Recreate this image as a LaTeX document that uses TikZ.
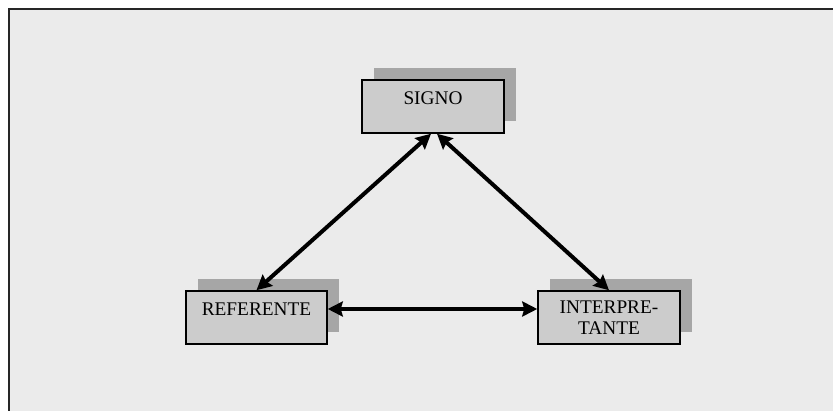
\documentclass[tikz,border=0pt]{standalone}
\usepackage{fontspec}
\setmainfont{Liberation Serif}
\usetikzlibrary{arrows.meta,shadows}
\definecolor{panel}{HTML}{EBEBEB}
\definecolor{boxfill}{HTML}{CCCCCC}
\definecolor{boxshade}{HTML}{A6A6A6}
\definecolor{frameline}{HTML}{262626}
\tikzset{
  conceptbox/.style={draw=black, line width=1.5pt, fill=boxfill,
    minimum width=142pt, minimum height=53pt, inner sep=0pt,
    align=center, font=\fontsize{19.3}{21}\selectfont,
    copy shadow={shadow xshift=12pt, shadow yshift=12pt, draw=none, fill=boxshade}},
  oneline/.style={text height=13pt, text depth=16pt},
  biarrow/.style={line width=4pt, {Stealth[length=15pt,width=15pt,inset=2pt]}-{Stealth[length=15pt,width=15pt,inset=2pt]}}
}
\begin{document}
\begin{tikzpicture}[x=1pt,y=-1pt]
  \useasboundingbox (0,0) rectangle (833,411);
  \fill[white] (0,0) rectangle (833,411);
  \fill[panel] (9,9) rectangle (833,411);
  \draw[frameline, line width=2.2pt] (9,411) -- (9,9) -- (833,9);

  \node[conceptbox, oneline] (signo) at (433,106.5) {SIGNO};
  \node[conceptbox, oneline, minimum width=141pt] (referente) at (256.5,317.5) {REFERENTE};
  \node[conceptbox] (interp) at (609,317.5) {INTERPRE-\\TANTE};

  \draw[biarrow] ([xshift=-2pt]signo.south) -- (referente.north);
  \draw[biarrow] ([xshift=4pt]signo.south) -- (interp.north);
  \draw[biarrow] ([yshift=8.5pt]referente.east) -- ([yshift=8.5pt]interp.west);
\end{tikzpicture}
\end{document}
